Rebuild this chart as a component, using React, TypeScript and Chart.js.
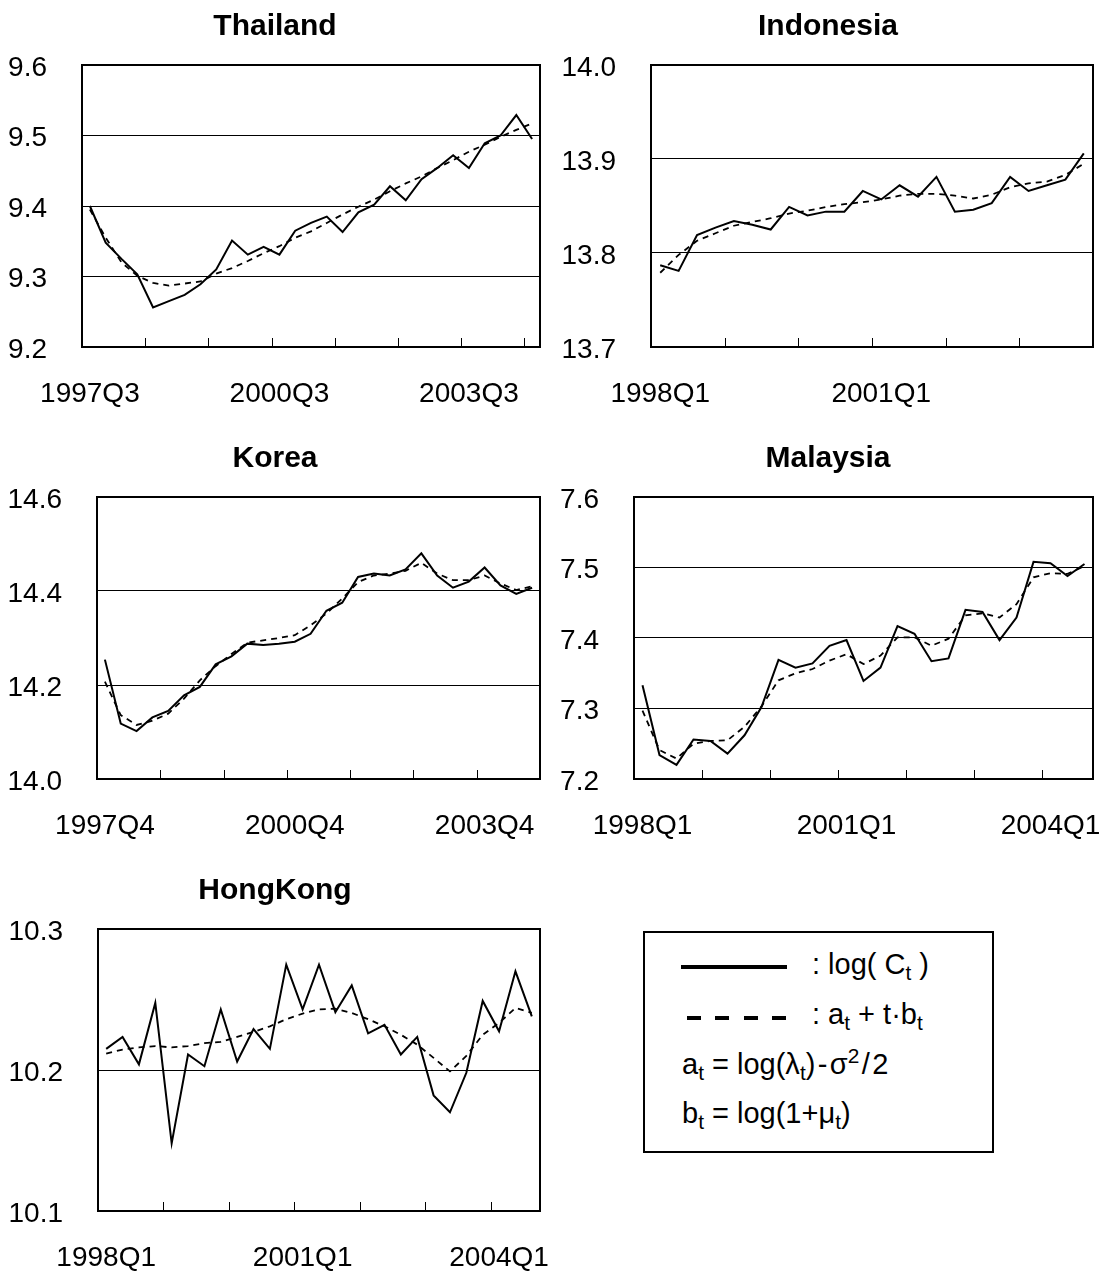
import React, { useEffect, useRef } from "react";
import { Chart, registerables } from "chart.js";

Chart.register(...registerables);

const FONT = "'Liberation Sans', Arial, Helvetica, sans-serif";

// ---------- helper: quarter category labels ----------
function quarters(startYear: number, startQ: number, n: number): string[] {
  const out: string[] = [];
  let y = startYear;
  let q = startQ;
  for (let i = 0; i < n; i++) {
    out.push(`${y}Q${q}`);
    q++;
    if (q > 4) {
      q = 1;
      y++;
    }
  }
  return out;
}

// ---------- DATA ----------
// Thailand (1997Q3 - 2004Q3)
const thailandCategories = quarters(1997, 3, 29);
const thailandActual = [
  9.4, 9.348, 9.325, 9.303, 9.256, 9.265, 9.274, 9.289, 9.31, 9.351, 9.331, 9.342, 9.331, 9.365, 9.376,
  9.385, 9.363, 9.391, 9.402, 9.428, 9.408, 9.438, 9.454, 9.472, 9.454, 9.489, 9.5, 9.529, 9.495,
];
const thailandTrend = [
  9.395, 9.355, 9.32, 9.301, 9.291, 9.287, 9.29, 9.293, 9.304, 9.312, 9.322, 9.333, 9.343, 9.355, 9.364,
  9.376, 9.388, 9.399, 9.409, 9.421, 9.432, 9.442, 9.454, 9.465, 9.477, 9.487, 9.498, 9.508, 9.517,
];
const thailandTickLabels = ["1997Q3", "2000Q3", "2003Q3"];

// Indonesia (1998Q1 - 2003Q4)
const indonesiaCategories = quarters(1998, 1, 24);
const indonesiaActual = [
  13.787, 13.781, 13.819, 13.827, 13.834, 13.83, 13.825, 13.849, 13.84, 13.844, 13.844, 13.866, 13.857,
  13.872, 13.86, 13.881, 13.844, 13.846, 13.853, 13.881, 13.866, 13.872, 13.878, 13.906,
];
const indonesiaTrend = [
  13.779, 13.798, 13.813, 13.821, 13.829, 13.833, 13.837, 13.842, 13.845, 13.849, 13.852, 13.854, 13.857,
  13.861, 13.863, 13.863, 13.861, 13.858, 13.862, 13.87, 13.874, 13.876, 13.883, 13.895,
];
const indonesiaTickLabels = ["1998Q1", "2001Q1"];

// Korea (1997Q4 - 2004Q3)
const koreaCategories = quarters(1997, 4, 28);
const koreaActual = [
  14.254, 14.118, 14.102, 14.131, 14.145, 14.178, 14.196, 14.244, 14.261, 14.288, 14.285, 14.288, 14.292,
  14.309, 14.358, 14.375, 14.43, 14.437, 14.433, 14.446, 14.48, 14.433, 14.407, 14.42, 14.45, 14.412,
  14.394, 14.407,
];
const koreaTrend = [
  14.207, 14.136, 14.115, 14.124, 14.139, 14.171, 14.21, 14.24, 14.266, 14.29, 14.295, 14.3, 14.306, 14.327,
  14.352, 14.384, 14.419, 14.433, 14.437, 14.443, 14.46, 14.437, 14.423, 14.423, 14.433, 14.416, 14.402,
  14.41,
];
const koreaTickLabels = ["1997Q4", "2000Q4", "2003Q4"];

// Malaysia (1998Q1 - 2004Q3)
const malaysiaCategories = quarters(1998, 1, 27);
const malaysiaActual = [
  7.333, 7.234, 7.22, 7.256, 7.254, 7.236, 7.262, 7.302, 7.369, 7.358, 7.364, 7.389, 7.397, 7.339, 7.358,
  7.417, 7.406, 7.367, 7.371, 7.44, 7.437, 7.397, 7.429, 7.508, 7.506, 7.488, 7.505,
];
const malaysiaTrend = [
  7.297, 7.241, 7.229, 7.25, 7.254, 7.255, 7.274, 7.303, 7.34, 7.35, 7.356, 7.368, 7.377, 7.363, 7.375,
  7.401, 7.401, 7.389, 7.399, 7.432, 7.435, 7.429, 7.448, 7.486, 7.492, 7.491, 7.502,
];
const malaysiaTickLabels = ["1998Q1", "2001Q1", "2004Q1"];

// Hong Kong (1998Q1 - 2004Q3)
const hongKongCategories = quarters(1998, 1, 27);
const hongKongActual = [
  10.215, 10.2235, 10.204, 10.2476, 10.148, 10.211, 10.2027, 10.243, 10.206, 10.229, 10.215, 10.2747,
  10.243, 10.2747, 10.241, 10.26, 10.226, 10.232, 10.211, 10.2235, 10.182, 10.17, 10.198, 10.249, 10.2275,
  10.27, 10.238,
];
const hongKongTrend = [
  10.2117, 10.2145, 10.216, 10.217, 10.216, 10.217, 10.219, 10.22, 10.2235, 10.227, 10.231, 10.236, 10.24,
  10.243, 10.2435, 10.2405, 10.236, 10.231, 10.225, 10.218, 10.2086, 10.199, 10.21, 10.225, 10.2334, 10.244,
  10.2405,
];
const hongKongTickLabels = ["1998Q1", "2001Q1", "2004Q1"];

// ---------- panel configuration ----------
type PanelCfg = {
  title: string;
  categories: string[];
  actual: number[];
  trend: number[];
  tickLabels: string[];
  yMin: number;
  yMax: number;
  yStep: number;
  left: number;
  top: number;
  yWidth: number;
};

const CANVAS_W = 553;
const TITLE_H = 65;
const PLOT_H = 282;
const XAXIS_H = 70;
const CANVAS_H = TITLE_H + PLOT_H + XAXIS_H;
const PAD_RIGHT = 13;
const TITLE_CENTER_X = 275;

const panels: PanelCfg[] = [
  {
    title: "Thailand",
    categories: thailandCategories,
    actual: thailandActual,
    trend: thailandTrend,
    tickLabels: thailandTickLabels,
    yMin: 9.2,
    yMax: 9.6,
    yStep: 0.1,
    left: 0,
    top: 0,
    yWidth: 82,
  },
  {
    title: "Indonesia",
    categories: indonesiaCategories,
    actual: indonesiaActual,
    trend: indonesiaTrend,
    tickLabels: indonesiaTickLabels,
    yMin: 13.7,
    yMax: 14.0,
    yStep: 0.1,
    left: 553,
    top: 0,
    yWidth: 98,
  },
  {
    title: "Korea",
    categories: koreaCategories,
    actual: koreaActual,
    trend: koreaTrend,
    tickLabels: koreaTickLabels,
    yMin: 14.0,
    yMax: 14.6,
    yStep: 0.2,
    left: 0,
    top: 432,
    yWidth: 97,
  },
  {
    title: "Malaysia",
    categories: malaysiaCategories,
    actual: malaysiaActual,
    trend: malaysiaTrend,
    tickLabels: malaysiaTickLabels,
    yMin: 7.2,
    yMax: 7.6,
    yStep: 0.1,
    left: 553,
    top: 432,
    yWidth: 81,
  },
  {
    title: "HongKong",
    categories: hongKongCategories,
    actual: hongKongActual,
    trend: hongKongTrend,
    tickLabels: hongKongTickLabels,
    yMin: 10.1,
    yMax: 10.3,
    yStep: 0.1,
    left: 0,
    top: 864,
    yWidth: 98,
  },
];

function makeDecorPlugin(title: string) {
  return {
    id: "frameTicksTitle",
    afterDraw(chart: any) {
      const { ctx, chartArea } = chart;
      const { left, top, right, bottom } = chartArea;
      const xs = chart.scales.x;
      const n = chart.data.datasets[0].data.length;
      ctx.save();
      // inward tick marks between year groups
      ctx.strokeStyle = "#000";
      ctx.lineWidth = 1;
      ctx.beginPath();
      for (let b = 3.5; b < n - 0.5; b += 4) {
        const px = Math.round(xs.getPixelForValue(b)) + 0.5;
        ctx.moveTo(px, bottom);
        ctx.lineTo(px, bottom - 9);
      }
      ctx.stroke();
      // plot frame
      ctx.lineWidth = 2;
      ctx.strokeRect(left, top, right - left, bottom - top);
      // panel title
      ctx.fillStyle = "#000";
      ctx.font = `bold 30px ${FONT}`;
      ctx.textAlign = "center";
      ctx.textBaseline = "alphabetic";
      ctx.fillText(title, TITLE_CENTER_X, top - 30);
      ctx.restore();
    },
  };
}

function Panel({ cfg }: { cfg: PanelCfg }) {
  const ref = useRef<HTMLCanvasElement>(null);
  useEffect(() => {
    const n = cfg.categories.length;
    const tickIdx = cfg.tickLabels.map((l) => cfg.categories.indexOf(l)).filter((i) => i >= 0);
    const chart = new Chart(ref.current as HTMLCanvasElement, {
      type: "line",
      data: {
        datasets: [
          {
            label: "log(Ct)",
            data: cfg.actual.map((y, i) => ({ x: i, y })),
            borderColor: "#000",
            borderWidth: 2,
            pointRadius: 0,
            fill: false,
            tension: 0,
          },
          {
            label: "at + t·bt",
            data: cfg.trend.map((y, i) => ({ x: i, y })),
            borderColor: "#000",
            borderWidth: 1.8,
            borderDash: [6, 5],
            pointRadius: 0,
            fill: false,
            tension: 0,
          },
        ],
      },
      options: {
        responsive: false,
        animation: false,
        events: [],
        layout: { padding: { left: 0, right: PAD_RIGHT, top: TITLE_H, bottom: 0 } },
        plugins: {
          legend: { display: false },
          tooltip: { enabled: false },
          title: { display: false },
        },
        scales: {
          x: {
            type: "linear",
            min: -0.5,
            max: n - 0.5,
            grid: {
              display: true,
              drawOnChartArea: false,
              drawTicks: true,
              tickLength: 30,
              color: "rgba(0,0,0,0)",
            },
            border: { display: false },
            afterBuildTicks: (s: any) => {
              s.ticks = tickIdx.map((v) => ({ value: v }));
            },
            afterFit: (s: any) => {
              s.height = XAXIS_H;
            },
            ticks: {
              autoSkip: false,
              maxRotation: 0,
              minRotation: 0,
              padding: 0,
              color: "#000",
              font: { family: FONT, size: 28 },
              callback: (v: any) => cfg.categories[Math.round(Number(v))] ?? "",
            },
          },
          y: {
            type: "linear",
            min: cfg.yMin,
            max: cfg.yMax,
            grid: { color: "#000", lineWidth: 1, drawTicks: false },
            border: { display: false },
            afterFit: (s: any) => {
              s.width = cfg.yWidth;
            },
            ticks: {
              stepSize: cfg.yStep,
              padding: 35,
              labelOffset: 3,
              color: "#000",
              font: { family: FONT, size: 28 },
              callback: (v: any) => Number(v).toFixed(1),
            },
          },
        },
      },
      plugins: [makeDecorPlugin(cfg.title)],
    } as any);
    return () => chart.destroy();
  }, [cfg]);
  return (
    <canvas
      ref={ref}
      width={CANVAS_W}
      height={CANVAS_H}
      style={{ position: "absolute", left: cfg.left, top: cfg.top, width: CANVAS_W, height: CANVAS_H }}
    />
  );
}

const Sub = ({ children }: { children: React.ReactNode }) => (
  <span style={{ fontSize: "0.72em", position: "relative", top: "0.32em" }}>{children}</span>
);
const Sup = ({ children }: { children: React.ReactNode }) => (
  <span style={{ fontSize: "0.72em", position: "relative", top: "-0.5em" }}>{children}</span>
);

function LegendBox() {
  const textStyle: React.CSSProperties = {
    position: "absolute",
    fontFamily: FONT,
    fontSize: 29,
    lineHeight: "29px",
    whiteSpace: "pre",
    color: "#000",
  };
  return (
    <>
      <div
        style={{
          position: "absolute",
          left: 643,
          top: 931,
          width: 351,
          height: 222,
          border: "2px solid #000",
          boxSizing: "border-box",
          background: "#fff",
        }}
      />
      <div style={{ position: "absolute", left: 681, top: 965, width: 106, height: 4, background: "#000" }} />
      <div
        style={{
          position: "absolute",
          left: 687,
          top: 1016,
          width: 100,
          height: 4,
          background: "repeating-linear-gradient(to right, #000 0px, #000 14px, transparent 14px, transparent 28.5px)",
        }}
      />
      <div style={{ ...textStyle, left: 812, top: 949.5 }}>
        {": log( C"}
        <Sub>t</Sub>
        {" )"}
      </div>
      <div style={{ ...textStyle, left: 812, top: 999.5 }}>
        {": a"}
        <Sub>t</Sub>
        {" + t·b"}
        <Sub>t</Sub>
      </div>
      <div style={{ ...textStyle, left: 682, top: 1049.5 }}>
        {"a"}
        <Sub>t</Sub>
        {" = log(λ"}
        <Sub>t</Sub>
        {")\u200A-\u200Aσ"}
        <Sup>2</Sup>
        {"\u200A/\u200A2"}
      </div>
      <div style={{ ...textStyle, left: 682, top: 1098.5 }}>
        {"b"}
        <Sub>t</Sub>
        {" = log(1+μ"}
        <Sub>t</Sub>
        {")"}
      </div>
    </>
  );
}

export default function App() {
  return (
    <div
      style={{
        position: "absolute",
        left: 0,
        top: 0,
        width: 1106,
        height: 1273,
        background: "#fff",
        overflow: "hidden",
      }}
    >
      {panels.map((p) => (
        <Panel key={p.title} cfg={p} />
      ))}
      <LegendBox />
    </div>
  );
}
